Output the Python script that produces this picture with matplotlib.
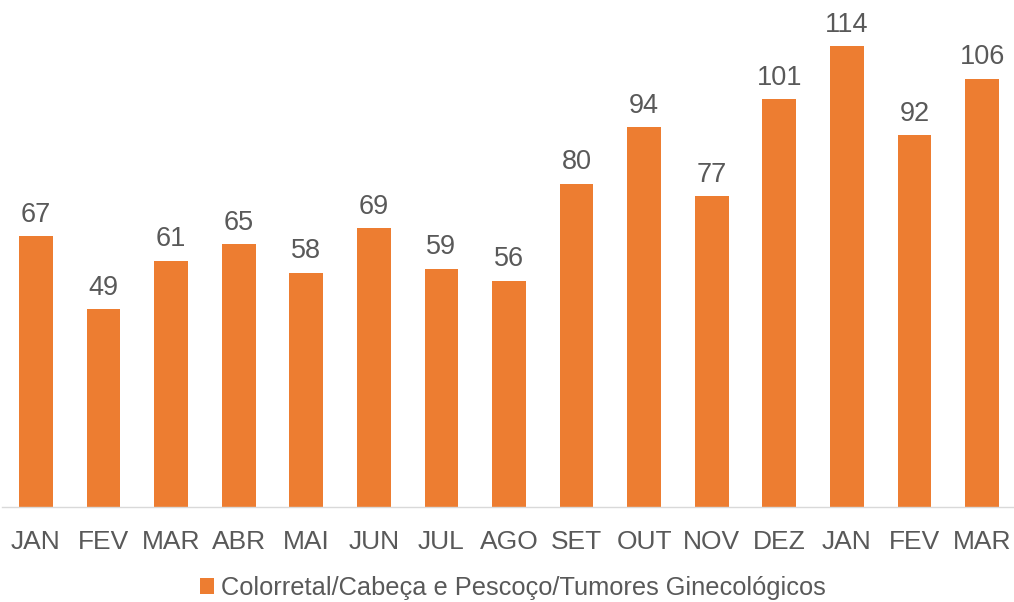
import matplotlib
matplotlib.use("Agg")
import matplotlib.pyplot as plt
from matplotlib.patches import Patch

months = ["JAN", "FEV", "MAR", "ABR", "MAI", "JUN", "JUL", "AGO", "SET", "OUT", "NOV", "DEZ", "JAN", "FEV", "MAR"]
values = [67, 49, 61, 65, 58, 69, 59, 56, 80, 94, 77, 101, 114, 92, 106]
series_name = "Colorretal/Cabeça e Pescoço/Tumores Ginecológicos"

plt.rcParams['font.family'] = ['Liberation Sans', 'DejaVu Sans']

W, H = 1014, 602
fig = plt.figure(figsize=(W/100, H/100), dpi=100)
ax = fig.add_axes([2/W, 1 - 507/H, 1014/W, 507/H])

color = "#ED7D31"
x = list(range(len(values)))
bars = ax.bar(x, values, width=0.5, color=color, zorder=2)
for xi, v in zip(x, values):
    ax.annotate(str(v), (xi, v), xytext=(0, 6), textcoords="offset points",
                ha="center", va="bottom", fontsize=19.5, color="#595959")

ax.set_xlim(-0.5, len(values) - 0.5)
ax.set_ylim(0, 125.5)
ax.set_xticks(x)
ax.set_xticklabels(months, fontsize=19, color="#595959")
ax.tick_params(axis="x", length=0, pad=16.5)
ax.set_yticks([])
for s in ["top", "right", "left"]:
    ax.spines[s].set_visible(False)
ax.spines["bottom"].set_color("#D9D9D9")
ax.spines["bottom"].set_linewidth(1)

handle = Patch(facecolor=color, edgecolor="none")
fig.legend([handle], [series_name], loc="center", bbox_to_anchor=(513/W, 1 - 588/H),
           frameon=False, fontsize=18.3, handlelength=0.55, handleheight=0.55,
           handletextpad=0.25, labelcolor="#595959")

fig.savefig("out.png", dpi=100)
